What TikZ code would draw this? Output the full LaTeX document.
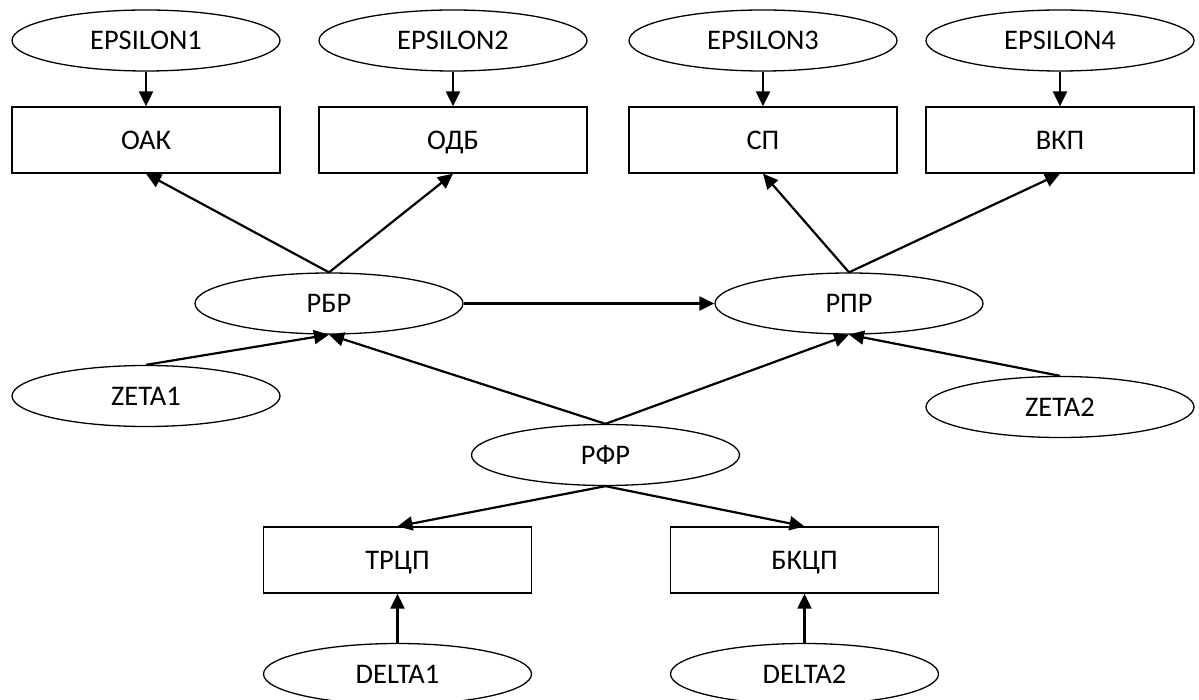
\documentclass[tikz,border=0pt]{standalone}
\usepackage{fontspec}
\setmainfont{Carlito}
\usetikzlibrary{shapes.geometric,arrows.meta}

\begin{document}
\begin{tikzpicture}[x=0.5pt,y=-0.5pt,
  label text/.style={font=\fontsize{14.2pt}{17pt}\selectfont,text height=10.5pt,text depth=1.3pt},
  oval/.style={draw,ellipse,line width=0.65pt,minimum width=134pt,minimum height=30.5pt,inner sep=0pt,label text},
  unit/.style={draw,rectangle,line width=0.65pt,minimum width=134pt,minimum height=33pt,inner sep=0pt,label text},
  link/.style={line width=1.1pt,-{Triangle[length=7.5pt,width=7pt]}}]
\useasboundingbox (0,0) rectangle (1199,700);

% input ovals, top row
\node[oval] (e1) at (146,40.5) {EPSILON1};
\node[oval] (e2) at (453,40.5) {EPSILON2};
\node[oval] (e3) at (763,40.5) {EPSILON3};
\node[oval] (e4) at (1060,40.5) {EPSILON4};

% result boxes, top row
\node[unit] (oak) at (146,140) {ОАК};
\node[unit] (odb) at (453,140) {ОДБ};
\node[unit] (sp)  at (763,140) {СП};
\node[unit] (vkp) at (1060,140) {ВКП};

% middle ovals
\node[oval] (rbr) at (329,303.5) {РБР};
\node[oval] (rpr) at (849,303.5) {РПР};
\node[oval] (z1) at (146,396) {ZETA1};
\node[oval] (z2) at (1060,407) {ZETA2};
\node[oval] (rfr) at (605.5,455) {РФР};

% lower boxes and their inputs
\node[unit] (trcp) at (397.5,560) {ТРЦП};
\node[unit] (bkcp) at (804.5,560) {БКЦП};
\node[oval] (d1) at (397.5,674) {DELTA1};
\node[oval] (d2) at (804.5,674) {DELTA2};

% connectors
\draw[link] (e1.south) -- (oak.north);
\draw[link] (e2.south) -- (odb.north);
\draw[link] (e3.south) -- (sp.north);
\draw[link] (e4.south) -- (vkp.north);

\draw[link] (rbr.north) -- (oak.south);
\draw[link] (rbr.north) -- (odb.south);
\draw[link] (rpr.north) -- (sp.south);
\draw[link] (rpr.north) -- (vkp.south);

\draw[link] (rbr.east) -- (rpr.west);

\draw[link] (z1.north) -- (rbr.south);
\draw[link] (rfr.north) -- (rbr.south);
\draw[link] (rfr.north) -- (rpr.south);
\draw[link] (z2.north) -- (rpr.south);

\draw[link] (rfr.south) -- (trcp.north);
\draw[link] (rfr.south) -- (bkcp.north);
\draw[link] (d1.north) -- (trcp.south);
\draw[link] (d2.north) -- (bkcp.south);
\end{tikzpicture}
\end{document}
